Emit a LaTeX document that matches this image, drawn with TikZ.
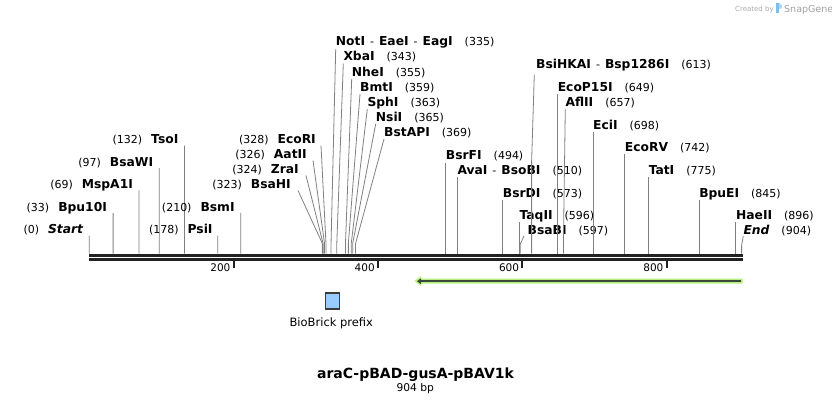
\documentclass[tikz,border=0pt]{standalone}
\usepackage{fontspec}
\setmainfont{DejaVu Sans}
\usetikzlibrary{arrows.meta}
\definecolor{sitegray}{RGB}{128,128,128}
\definecolor{bbcol}{RGB}{34,34,34}
\definecolor{featgreen}{RGB}{181,240,125}
\definecolor{featdark}{RGB}{58,72,58}
\definecolor{bbfill}{RGB}{153,204,255}
\definecolor{bbline}{RGB}{60,60,60}
\definecolor{logogray}{RGB}{170,170,170}
\definecolor{logoblue}{RGB}{120,190,240}
\newcommand\sx[1]{89.3+0.7216*#1}
\newcommand\nm[1]{{\fontsize{12.3bp}{14bp}\selectfont\bfseries #1}}
\newcommand\gapR{\hspace{12bp}}
\newcommand\gapL{\hspace{9bp}}
\newcommand\dsh{\hspace{5bp}-\hspace{5bp}}
\begin{document}
\begin{tikzpicture}[x=1bp,y=-1bp,
  lbl/.style={inner sep=0pt, font=\fontsize{11bp}{13bp}\selectfont, text=black},
  site/.style={draw=sitegray, line width=0.8bp},
  bbline/.style={draw=bbcol, line cap=butt},
  tickmark/.style={draw=bbcol, line width=2bp},
  ticklbl/.style={inner sep=0pt, font=\fontsize{10.5bp}{12bp}\selectfont, anchor=base east}]
\useasboundingbox (0,0) rectangle (832,404);

% cut coordinates on the backbone
\foreach \p in {0,33,69,97,132,178,210,323,324,326,328,335,343,355,359,363,365,369,494,510,573,596,597,613,649,657,698,742,775,845,896,904}
  \coordinate (c\p) at ({\sx{\p}},253.5);

% backbone
\coordinate (bbL) at (89,255.3);
\coordinate (bbR) at (742.7,255.3);
\coordinate (bbL2) at (89,259.5);
\coordinate (bbR2) at (742.7,259.5);
\draw[bbline, line width=2.7bp] (bbL) -- (bbR);
\draw[bbline, line width=2.4bp] (bbL2) -- (bbR2);

% ticks
\foreach \t in {200,400,600,800} {
  \coordinate (t\t a) at ({\sx{\t}},260.5);
  \coordinate (t\t b) at ({\sx{\t}},268);
  \draw[tickmark] (t\t a) -- (t\t b);
  \node[ticklbl] (tl\t) at ({\sx{\t}-3},271.5) {\t};
}

% ---- left side labels (vertical) ----
\node[lbl,anchor=base east] (start) at ({\sx{0}-6},233.5) {(0)\gapL\nm{\itshape Start}};
\draw[site] ([xshift=6bp,yshift=-2bp]start.base east) -- (c0);
\node[lbl,anchor=base east] (bpu) at ({\sx{33}-6},211) {(33)\gapL\nm{Bpu10I}};
\draw[site] ([xshift=6bp,yshift=-2bp]bpu.base east) -- (c33);
\node[lbl,anchor=base east] (msp) at ({\sx{69}-6},188) {(69)\gapL\nm{MspA1I}};
\draw[site] ([xshift=6bp,yshift=-2bp]msp.base east) -- (c69);
\node[lbl,anchor=base east] (bsawi) at ({\sx{97}-6},166) {(97)\gapL\nm{BsaWI}};
\draw[site] ([xshift=6bp,yshift=-2bp]bsawi.base east) -- (c97);
\node[lbl,anchor=base east] (tso) at ({\sx{132}-6},143.5) {(132)\gapL\nm{TsoI}};
\draw[site] ([xshift=6bp,yshift=-2bp]tso.base east) -- (c132);
\node[lbl,anchor=base east] (psi) at ({\sx{178}-5},233.5) {(178)\gapL\nm{PsiI}};
\draw[site] ([xshift=5bp,yshift=-2bp]psi.base east) -- (c178);
\node[lbl,anchor=base east] (bsm) at ({\sx{210}-6},211) {(210)\gapL\nm{BsmI}};
\draw[site] ([xshift=6bp,yshift=-2bp]bsm.base east) -- (c210);

% ---- left cluster ----
\node[lbl,anchor=base east] (bsahi) at (291,188.5) {(323)\gapL\nm{BsaHI}};
\draw[site] ([xshift=7bp,yshift=-2bp]bsahi.base east) -- ([yshift=10bp]c323) -- (c323);
\node[lbl,anchor=base east] (zra) at (299,173.5) {(324)\gapL\nm{ZraI}};
\draw[site] ([xshift=7bp,yshift=-2bp]zra.base east) -- ([yshift=10bp]c324) -- (c324);
\node[lbl,anchor=base east] (aat) at (307,158.5) {(326)\gapL\nm{AatII}};
\draw[site] ([xshift=6bp,yshift=-2bp]aat.base east) -- ([yshift=10bp]c326) -- (c326);
\node[lbl,anchor=base east] (ecori) at (316,143.5) {(328)\gapL\nm{EcoRI}};
\draw[site] ([xshift=5bp,yshift=-2bp]ecori.base east) -- ([yshift=10bp]c328) -- (c328);

% ---- right cluster ----
\node[lbl,anchor=base west] (noti) at (335.7,45) {\nm{NotI}\dsh\nm{EaeI}\dsh\nm{EagI}\gapR(335)};
\draw[site] ([yshift=-4bp]noti.base west) -- ([yshift=10bp]c335) -- (c335);
\node[lbl,anchor=base west] (xba) at (343.3,60.5) {\nm{XbaI}\gapR(343)};
\draw[site] ([yshift=-3bp]xba.base west) -- ([yshift=10bp]c343) -- (c343);
\node[lbl,anchor=base west] (nhe) at (351.7,76) {\nm{NheI}\gapR(355)};
\draw[site] ([yshift=-3bp]nhe.base west) -- ([yshift=10bp]c355) -- (c355);
\node[lbl,anchor=base west] (bmt) at (360,91) {\nm{BmtI}\gapR(359)};
\draw[site] ([yshift=-3bp]bmt.base west) -- ([yshift=10bp]c359) -- (c359);
\node[lbl,anchor=base west] (sph) at (367.3,106) {\nm{SphI}\gapR(363)};
\draw[site] ([yshift=-3bp]sph.base west) -- ([yshift=10bp]c363) -- (c363);
\node[lbl,anchor=base west] (nsi) at (375.7,121) {\nm{NsiI}\gapR(365)};
\draw[site] ([yshift=-3bp]nsi.base west) -- ([yshift=10bp]c365) -- (c365);
\node[lbl,anchor=base west] (bstapi) at (384,136) {\nm{BstAPI}\gapR(369)};
\draw[site] ([yshift=-3bp]bstapi.base west) -- ([yshift=10bp]c369) -- (c369);

% ---- right side labels ----
\node[lbl,anchor=base west] (bsrfi) at ({\sx{494}},159.5) {\nm{BsrFI}\gapR(494)};
\draw[site] ([yshift=-3bp]bsrfi.base west) -- (c494);
\node[lbl,anchor=base west] (ava) at ({\sx{510}},174) {\nm{AvaI}\dsh\nm{BsoBI}\gapR(510)};
\draw[site] ([yshift=-3bp]ava.base west) -- (c510);
\node[lbl,anchor=base west] (bsrdi) at ({\sx{573}},197) {\nm{BsrDI}\gapR(573)};
\draw[site] ([yshift=-3bp]bsrdi.base west) -- (c573);
\node[lbl,anchor=base west] (taq) at ({\sx{596}},219) {\nm{TaqII}\gapR(596)};
\draw[site] ([yshift=-3bp]taq.base west) -- (c596);
\node[lbl,anchor=base west] (bsabi) at (527.5,234) {\nm{BsaBI}\gapR(597)};
\draw[site] ([xshift=-3.5bp,yshift=-2bp]bsabi.base west) -- ([yshift=9bp]c597) -- (c597);
\node[lbl,anchor=base west] (bsihk) at (536,68.5) {\nm{BsiHKAI}\dsh\nm{Bsp1286I}\gapR(613)};
\draw[site] ([xshift=-1.7bp,yshift=-6bp]bsihk.base west) -- ([yshift=93bp]c613) -- (c613);
\node[lbl,anchor=base west] (ecop) at ({\sx{649}},91) {\nm{EcoP15I}\gapR(649)};
\draw[site] ([yshift=-3bp]ecop.base west) -- (c649);
\node[lbl,anchor=base west] (afl) at (565.3,106) {\nm{AflII}\gapR(657)};
\draw[site] ([yshift=-3bp]afl.base west) -- ([yshift=10bp]c657) -- (c657);
\node[lbl,anchor=base west] (eci) at ({\sx{698}},129) {\nm{EciI}\gapR(698)};
\draw[site] ([yshift=-3bp]eci.base west) -- (c698);
\node[lbl,anchor=base west] (ecorv) at ({\sx{742}},151) {\nm{EcoRV}\gapR(742)};
\draw[site] ([yshift=-3bp]ecorv.base west) -- (c742);
\node[lbl,anchor=base west] (tat) at ({\sx{775}},174) {\nm{TatI}\gapR(775)};
\draw[site] ([yshift=-3bp]tat.base west) -- (c775);
\node[lbl,anchor=base west] (bpuei) at ({\sx{845}},197) {\nm{BpuEI}\gapR(845)};
\draw[site] ([yshift=-3bp]bpuei.base west) -- (c845);
\node[lbl,anchor=base west] (hae) at ({\sx{896}},219) {\nm{HaeII}\gapR(896)};
\draw[site] ([yshift=-3bp]hae.base west) -- (c896);
\node[lbl,anchor=base west] (endl) at (743.3,234) {\nm{\itshape End}\gapR(904)};
\draw[site] ([yshift=-2bp]endl.base west) -- ([yshift=8bp]c904) -- (c904);

% ---- feature arrow ----
\coordinate (fR) at (742.7,281);
\coordinate (fL) at (421,281);
\coordinate (fT) at (414.5,281);
\coordinate (fRd) at (741,281.2);
\coordinate (fLd) at (417,281.2);
\fill[featgreen] ([yshift=2.5bp]fR) -- ([yshift=2.5bp]fL) -- ([yshift=5bp]fL) -- (fT) -- ([yshift=-5bp]fL) -- ([yshift=-2.5bp]fL) -- ([yshift=-2.5bp]fR) -- cycle;
\draw[featdark, line width=2.3bp, -{Triangle[length=4bp,width=5.5bp]}] (fRd) -- (fLd);

% ---- BioBrick prefix ----
\node[draw=bbline, fill=bbfill, line width=1.2bp, minimum width=14bp, minimum height=16bp, inner sep=0pt] (bbx) at (332.5,301) {};
\node[inner sep=0pt, anchor=base, font=\fontsize{11.5bp}{13bp}\selectfont] (bbt) at (331.3,326) {BioBrick prefix};

% ---- title ----
\node[inner sep=0pt, anchor=base, font=\fontsize{14bp}{16bp}\selectfont\bfseries] (title) at (415.5,378.5) {araC-pBAD-gusA-pBAV1k};
\node[inner sep=0pt, anchor=base, font=\fontsize{10.7bp}{12bp}\selectfont] (len) at (415.3,391) {904 bp};

% ---- logo ----
\node[inner sep=0pt, anchor=base west, text=logogray, font=\fontsize{7bp}{8bp}\selectfont] (cby) at (735,11) {Created by};
\fill[logoblue] (776,3) rectangle (779,13);
\fill[logoblue!60] (779,3) -- (782,5) -- (782,8) -- (779,9) -- cycle;
\node[inner sep=0pt, anchor=base west, text=logogray!110, font=\fontsize{9.5bp}{10bp}\selectfont] (snap) at (784,12) {SnapGene};
\end{tikzpicture}
\end{document}
